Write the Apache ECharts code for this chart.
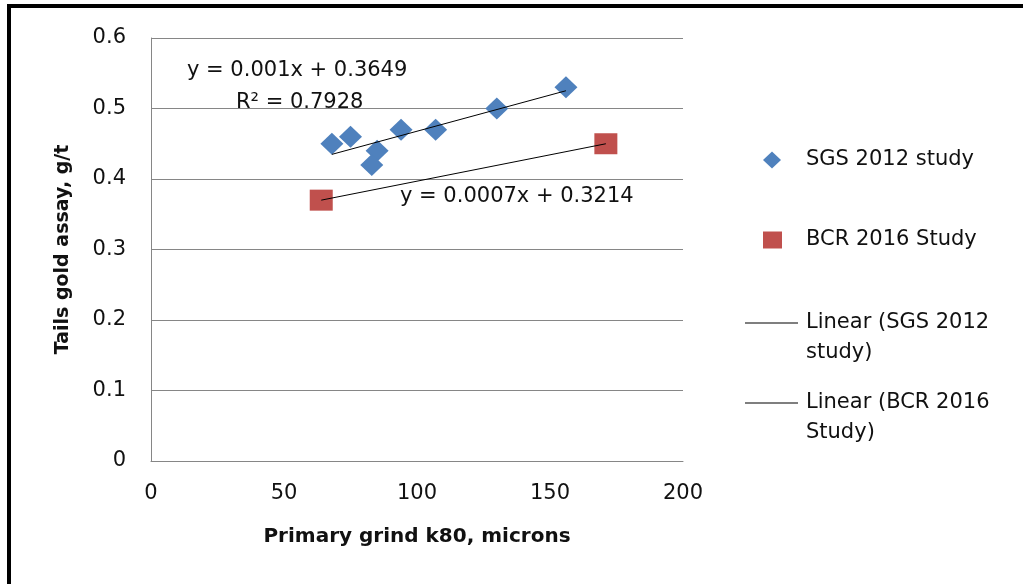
<!DOCTYPE html>
<html>
<head>
<meta charset="utf-8">
<script src="https://cdn.jsdelivr.net/npm/echarts@6/dist/echarts.min.js"></script>
<style>
  html, body { margin: 0; padding: 0; background: #fff; }
  #chartContainer { width: 1023px; height: 584px; }
</style>
</head>
<body>
<div id="chartContainer"></div>
<script>
// SGS 2012 study
var sgsGrind = [68, 75, 85, 83, 94, 107, 130, 156];
var sgsAssay = [0.45, 0.46, 0.44, 0.42, 0.47, 0.47, 0.50, 0.53];
// BCR 2016 study
var bcrGrind = [64, 171];
var bcrAssay = [0.37, 0.45];

var xTicks = [0, 50, 100, 150, 200];
var yTicks = [0, 0.1, 0.2, 0.3, 0.4, 0.5, 0.6];

var sgsEquation = 'y = 0.001x + 0.3649';
var sgsRsq = 'R² = 0.7928';
var bcrEquation = 'y = 0.0007x + 0.3214';

var fontName = 'DejaVu Sans';
var gridColor = '#868686';

function toPairs(xs, ys) {
  var out = [];
  for (var i = 0; i < xs.length; i++) {
    out.push([xs[i], ys[i]]);
  }
  return out;
}

// least squares line, drawn between smallest and largest x (like excel trendline)
function trendLine(xs, ys) {
  var n = xs.length, sx = 0, sy = 0, sxy = 0, sxx = 0;
  for (var i = 0; i < n; i++) {
    sx += xs[i]; sy += ys[i];
    sxy += xs[i] * ys[i]; sxx += xs[i] * xs[i];
  }
  var slope = (n * sxy - sx * sy) / (n * sxx - sx * sx);
  var icpt = (sy - slope * sx) / n;
  var lo = Math.min.apply(null, xs), hi = Math.max.apply(null, xs);
  return [[lo, icpt + slope * lo], [hi, icpt + slope * hi]];
}

var chartDom = document.getElementById('chartContainer');
var chart = echarts.init(chartDom, null, { renderer: 'canvas' });

var legendText = { fontFamily: fontName, fontSize: 21, color: '#111', lineHeight: 30 };

var option = {
  animation: false,
  backgroundColor: '#fff',
  grid: { left: 151, right: 340, top: 38, bottom: 123 },
  xAxis: {
    type: 'value',
    min: xTicks[0],
    max: xTicks[xTicks.length - 1],
    interval: xTicks[1] - xTicks[0],
    name: 'Primary grind k80, microns',
    nameLocation: 'middle',
    nameGap: 66,
    nameTextStyle: { fontFamily: fontName, fontSize: 20, fontWeight: 'bold', color: '#111' },
    axisLine: { show: true, lineStyle: { color: gridColor, width: 1 } },
    axisTick: { show: false },
    splitLine: { show: false },
    axisLabel: { fontFamily: fontName, fontSize: 21, color: '#111', margin: 22 }
  },
  yAxis: {
    type: 'value',
    min: yTicks[0],
    max: yTicks[yTicks.length - 1],
    interval: 0.1,
    name: 'Tails gold assay, g/t',
    nameLocation: 'middle',
    nameGap: 78,
    nameTextStyle: { fontFamily: fontName, fontSize: 19, fontWeight: 'bold', color: '#111' },
    axisLine: { show: true, lineStyle: { color: gridColor, width: 1 } },
    axisTick: { show: false },
    splitLine: { show: true, lineStyle: { color: gridColor, width: 1 } },
    axisLabel: { fontFamily: fontName, fontSize: 21, color: '#111', margin: 25 }
  },
  legend: [
    {
      left: 763, top: 145, padding: 0, orient: 'vertical', selectedMode: false,
      itemWidth: 18, itemHeight: 17,
      data: ['SGS 2012 study'],
      textStyle: Object.assign({}, legendText, { padding: [0, 0, 0, 20] })
    },
    {
      left: 763, top: 225, padding: 0, orient: 'vertical', selectedMode: false,
      itemWidth: 19, itemHeight: 17,
      data: ['BCR 2016 Study'],
      textStyle: Object.assign({}, legendText, { padding: [0, 0, 0, 19] })
    },
    {
      // blank first line so the icon sits level with the first text line
      left: 745, top: 278, padding: 0, orient: 'vertical', selectedMode: false,
      itemWidth: 53, itemHeight: 1,
      data: [{ name: 'Linear (SGS 2012 study)', icon: 'rect' }],
      formatter: function () { return ' \nLinear (SGS 2012\nstudy)'; },
      textStyle: Object.assign({}, legendText, { padding: [0, 0, 0, 3] })
    },
    {
      left: 745, top: 358, padding: 0, orient: 'vertical', selectedMode: false,
      itemWidth: 53, itemHeight: 1,
      data: [{ name: 'Linear (BCR 2016 Study)', icon: 'rect' }],
      formatter: function () { return ' \nLinear (BCR 2016\nStudy)'; },
      textStyle: Object.assign({}, legendText, { padding: [0, 0, 0, 3] })
    }
  ],
  series: [
    {
      name: 'SGS 2012 study',
      type: 'scatter',
      symbol: 'diamond',
      symbolSize: [23, 22],
      itemStyle: { color: '#4F81BD', opacity: 1 },
      data: toPairs(sgsGrind, sgsAssay),
      z: 3
    },
    {
      name: 'BCR 2016 Study',
      type: 'scatter',
      symbol: 'rect',
      symbolSize: [23, 21],
      itemStyle: { color: '#C0504D', opacity: 1 },
      data: toPairs(bcrGrind, bcrAssay),
      z: 3
    },
    {
      name: 'Linear (SGS 2012 study)',
      type: 'line',
      symbol: 'none',
      showSymbol: false,
      color: '#000',
      lineStyle: { color: '#000', width: 1 },
      data: trendLine(sgsGrind, sgsAssay),
      z: 4
    },
    {
      name: 'Linear (BCR 2016 Study)',
      type: 'line',
      symbol: 'none',
      showSymbol: false,
      color: '#000',
      lineStyle: { color: '#000', width: 1 },
      data: trendLine(bcrGrind, bcrAssay),
      z: 4
    }
  ],
  graphic: [
    // black frame edges of the original picture
    { type: 'rect', shape: { x: 7, y: 4, width: 1016, height: 4 }, style: { fill: '#000' }, silent: true },
    { type: 'rect', shape: { x: 7, y: 4, width: 4, height: 580 }, style: { fill: '#000' }, silent: true },
    {
      type: 'text', left: 187, top: 60, silent: true,
      style: { text: sgsEquation, fontFamily: fontName, fontSize: 21, fill: '#111' },
      z: 10
    },
    {
      type: 'text', left: 236, top: 92, silent: true,
      style: { text: sgsRsq, fontFamily: fontName, fontSize: 21, fill: '#111' },
      z: 10
    },
    {
      type: 'text', left: 400, top: 186, silent: true,
      style: { text: bcrEquation, fontFamily: fontName, fontSize: 21, fill: '#111' },
      z: 10
    }
  ]
};

chart.setOption(option);
</script>
</body>
</html>
